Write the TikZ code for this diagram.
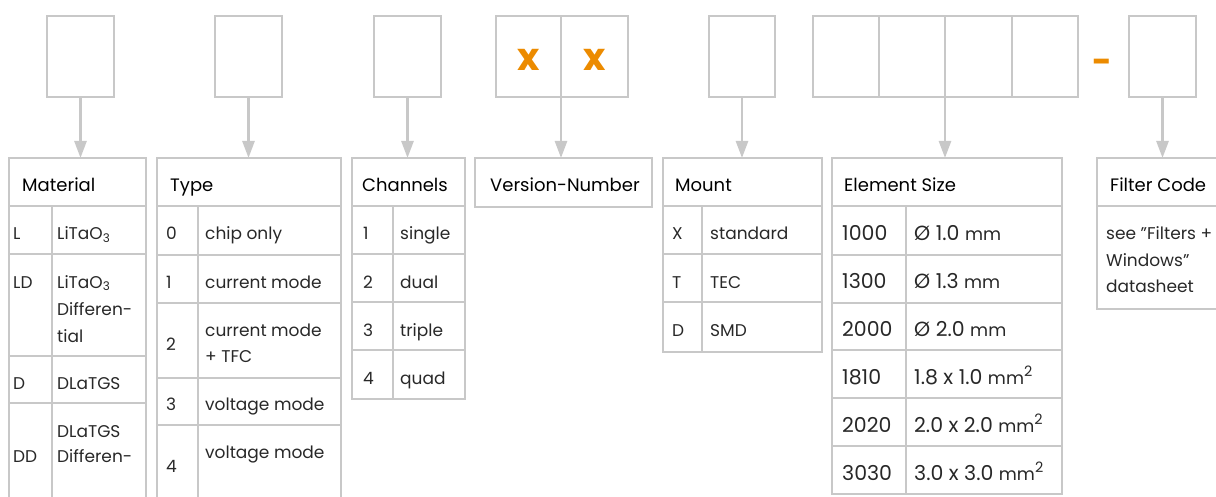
\documentclass[tikz,border=0pt]{standalone}
\usepackage{fontspec}
\setmainfont{Poppins}
\usetikzlibrary{arrows.meta}
\definecolor{lineg}{RGB}{200,200,200}
\definecolor{orng}{RGB}{236,139,0}
\definecolor{bodyc}{RGB}{40,40,40}
\tikzset{
  cellst/.style={draw=lineg, line width=2.6pt, inner sep=0pt, outer sep=0pt},
  topbox/.style={draw=lineg, line width=2.6pt, inner sep=0pt, outer sep=0pt, anchor=north west, minimum height=81pt},
  conn/.style={draw=lineg, line width=2.6pt, -{Triangle[width=12pt,length=17pt]}},
  txt/.style={inner sep=0pt, font=\fontsize{17}{20}\selectfont, text=bodyc},
  etxt/.style={inner sep=0pt, font=\fontsize{20.5}{24}\selectfont, text=bodyc},
  hd/.style={inner sep=0pt, font=\fontsize{18}{21}\selectfont, text=black},
  xmark/.style={inner sep=0pt, font=\fontsize{38}{40}\selectfont\bfseries, text=orng, anchor=base},
}
\newcommand\cellat[5]{\node[cellst, anchor=north west, minimum width={(#4-#2)*1pt}, minimum height={(#5-#3)*1pt}] (#1) at (#2,#3) {};}
\newcommand\rowpair[6]{\cellat{#1k}{#2}{#5}{#3}{#6}\cellat{#1v}{#3}{#5}{#4}{#6}}
\newcommand\tx[4]{\node[txt, anchor=base west] (#1) at (#2,#3) {#4};}
\newcommand\ex[4]{\node[etxt, anchor=base west] (#1) at (#2,#3) {#4};}
\newcommand\hx[4]{\node[hd, anchor=base west] (#1) at (#2,#3) {#4};}
\newcommand\tbx[3]{\node[topbox, minimum width={(#3-#2)*1pt}] (#1) at (#2,16) {};}
\newcommand\smm{{\fontsize{17.5}{20}\selectfont mm}}
\begin{document}
\begin{tikzpicture}[x=1pt,y=-1pt]
\useasboundingbox (0,0) rectangle (1216,497);
\clip (0,0) rectangle (1216,497);
% top boxes
\tbx{b1}{47}{114}
\tbx{b2}{215}{282}
\tbx{b3}{374}{441}
\tbx{v1}{496}{561}
\tbx{v2}{561}{628}
\tbx{b5}{709}{775}
\tbx{e1}{813}{879}
\tbx{e2}{879}{945}
\tbx{e3}{945}{1012}
\tbx{e4}{1012}{1078}
\tbx{fb}{1129}{1196}
\node[xmark] (x1) at (528.5,71) {x};
\node[xmark] (x2) at (594.5,71) {x};
\node[xmark, font=\fontsize{34}{36}\selectfont\bfseries] (dash) at (1102,74) {-};
% Material table
\cellat{matH}{9}{158}{146}{206}
\rowpair{ma}{9}{52}{146}{206}{254}
\rowpair{mb}{9}{52}{146}{254}{356}
\rowpair{mc}{9}{52}{146}{356}{403}
\rowpair{md}{9}{52}{146}{403}{530}
\hx{matT}{22}{192}{Material}
\tx{ma1}{13}{240}{L}
\tx{ma2}{57}{240}{LiTaO\textsubscript{3}}
\tx{mb1}{13}{288}{LD}
\tx{mb2}{57}{288}{LiTaO\textsubscript{3}}
\tx{mb3}{57}{315}{Differen-}
\tx{mb4}{57}{342}{tial}
\tx{mc1}{13}{389}{D}
\tx{mc2}{57}{389}{DLaTGS}
\tx{md1}{13}{462}{DD}
\tx{md2}{57}{437}{DLaTGS}
\tx{md3}{57}{462}{Differen-}
% Type table
\cellat{typH}{157}{158}{341}{206}
\rowpair{ta}{157}{198}{341}{206}{255}
\rowpair{tb}{157}{198}{341}{255}{303}
\rowpair{tc}{157}{198}{341}{303}{378}
\rowpair{td}{157}{198}{341}{378}{425}
\rowpair{te}{157}{198}{341}{425}{530}
\hx{typT}{170}{192}{Type}
\tx{ta1}{166}{240}{0}
\tx{ta2}{205}{240}{chip only}
\tx{tb1}{166}{288}{1}
\tx{tb2}{205}{288}{current mode}
\tx{tc1}{166}{350}{2}
\tx{tc2}{205}{336}{current mode}
\tx{tc3}{205}{362}{+ TFC}
\tx{td1}{166}{410}{3}
\tx{td2}{205}{410}{voltage mode}
\tx{te1}{166}{472}{4}
\tx{te2}{205}{458}{voltage mode}
% Channels table
\cellat{chH}{352}{158}{465}{206}
\rowpair{ca}{352}{393}{465}{206}{254}
\rowpair{cb}{352}{393}{465}{254}{302}
\rowpair{cc}{352}{393}{465}{302}{350}
\rowpair{cd}{352}{393}{465}{350}{399}
\hx{chT}{362}{192}{Channels}
\tx{ca1}{363}{240}{1}
\tx{ca2}{400}{240}{single}
\tx{cb1}{363}{288}{2}
\tx{cb2}{400}{288}{dual}
\tx{cc1}{363}{336}{3}
\tx{cc2}{400}{336}{triple}
\tx{cd1}{363}{384}{4}
\tx{cd2}{400}{384}{quad}
% Version table
\cellat{verH}{475}{158}{652}{207}
\hx{verT}{490}{192}{Version-Number}
% Mount table
\cellat{mH}{663}{158}{822}{206}
\rowpair{oa}{663}{702}{822}{206}{254}
\rowpair{ob}{663}{702}{822}{254}{302}
\rowpair{oc}{663}{702}{822}{302}{352}
\hx{mT}{675}{192}{Mount}
\tx{oa1}{672}{240}{X}
\tx{oa2}{710}{240}{standard}
\tx{ob1}{672}{288}{T}
\tx{ob2}{710}{288}{TEC}
\tx{oc1}{672}{336}{D}
\tx{oc2}{710}{336}{SMD}
% Element size table
\cellat{eH}{832}{158}{1062}{206}
\rowpair{ea}{832}{906}{1062}{206}{255}
\rowpair{eb}{832}{906}{1062}{255}{303}
\rowpair{ec}{832}{906}{1062}{303}{350}
\rowpair{ed}{832}{906}{1062}{350}{398}
\rowpair{ee}{832}{906}{1062}{398}{446}
\rowpair{ef}{832}{906}{1062}{446}{494}
\hx{eT}{844}{192}{Element Size}
\ex{ea1}{842}{241}{1000}
\ex{ea2}{914}{241}{Ø 1.0 \smm}
\ex{eb1}{842}{289}{1300}
\ex{eb2}{914}{289}{Ø 1.3 \smm}
\ex{ec1}{842}{336}{2000}
\ex{ec2}{914}{336}{Ø 2.0 \smm}
\ex{ed1}{842}{384}{1810}
\ex{ed2}{914}{384}{1.8 x 1.0 \smm\textsuperscript{2}}
\ex{ee1}{842}{432}{2020}
\ex{ee2}{914}{432}{2.0 x 2.0 \smm\textsuperscript{2}}
\ex{ef1}{842}{480}{3030}
\ex{ef2}{914}{480}{3.0 x 3.0 \smm\textsuperscript{2}}
% Filter code table
\cellat{fH}{1097}{158}{1240}{206}
\cellat{fBd}{1097}{206}{1240}{309}
\hx{fT}{1110}{192}{Filter Code}
\tx{f1}{1106}{240}{see "Filters +}
\tx{f2}{1106}{266}{Windows"}
\tx{f3}{1106}{292}{datasheet}
% connectors
\draw[conn] (b1.south) -- (b1.south |- matH.north);
\draw[conn] (b2.south) -- (b2.south |- typH.north);
\draw[conn] (b3.south) -- (b3.south |- chH.north);
\draw[conn] (v1.south east) -- (v1.south east |- verH.north);
\draw[conn] (b5.south) -- (b5.south |- mH.north);
\draw[conn] (e2.south east) -- (e2.south east |- eH.north);
\draw[conn] (fb.south) -- (fb.south |- fH.north);
\end{tikzpicture}
\end{document}
